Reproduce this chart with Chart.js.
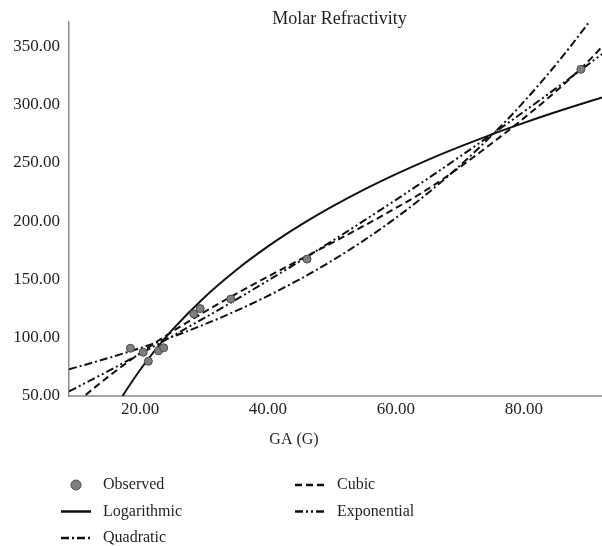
<!DOCTYPE html>
<html><head><meta charset="utf-8">
<script src="https://cdn.jsdelivr.net/npm/chart.js@4.4.1/dist/chart.umd.min.js"></script>
<style>html,body{margin:0;padding:0;background:#fff}#wrap{position:relative;width:602px;height:546px}</style>
</head><body><div id="wrap"><canvas id="c"></canvas></div>
<script>
const chartTitle = 'Molar Refractivity';
const xAxisTitle = 'GA (G)';
const xTickValues = [20, 40, 60, 80];
const yTickValues = [50, 100, 150, 200, 250, 300, 350];

const observedX = [18.5, 20.5, 21.3, 22.9, 23.7, 28.4, 29.4, 34.2, 46.1, 88.9];
const observedY = [91.0, 87.5, 79.8, 88.8, 91.4, 120.5, 125.0, 133.2, 167.5, 330.4];

const logX = [16, 17, 18, 20, 22, 25, 30, 35, 40, 45, 50, 55, 60, 65, 70, 75, 80, 85, 92.2];
const logY = [38.2, 47.5, 56.2, 72.3, 86.9, 106.5, 134.4, 158.0, 178.4, 196.4, 212.5, 227.1, 240.4, 252.7, 264.0, 274.6, 284.4, 293.7, 306.2];

const cubicX = [8.9, 11.3, 15, 20, 25, 30, 35, 40, 45, 50, 55, 60, 65, 70, 75, 80, 85, 90, 92.2];
const cubicY = [38.6, 50.0, 66.4, 86.7, 105.1, 121.9, 137.6, 152.5, 167.0, 181.4, 196.1, 211.4, 227.7, 246.5, 267.0, 288.5, 311.5, 337.0, 349.7];

const expX = [8.9, 12, 15, 20, 25, 30, 35, 40, 45, 50, 55, 60, 65, 70, 75, 80, 85, 90, 92.2];
const expY = [53.9, 62.7, 71.3, 86.1, 101.2, 116.8, 132.7, 149.1, 165.8, 182.9, 200.5, 218.4, 236.7, 255.5, 274.6, 294.1, 314.0, 334.4, 343.4];

const quadX = [8.9, 12, 15, 20, 25, 30, 35, 40, 45, 50, 55, 60, 65, 70, 75, 80, 85, 90, 92.2];
const quadY = [73.0, 77.7, 82.5, 91.1, 100.7, 111.3, 123.0, 136.0, 150.3, 166.1, 183.6, 202.9, 224.2, 247.8, 273.8, 302.6, 334.5, 369.6, 386.2];

const pts = (xs, ys) => xs.map((x, i) => ({x: x, y: ys[i]}));
const FONT = '"Liberation Serif", "Times New Roman", serif';
const TEXT = '#231f20';
const LINE = '#111111';

const curve = (label, xs, ys, dash) => ({
  type: 'line', label, data: pts(xs, ys),
  borderColor: LINE, backgroundColor: LINE, borderWidth: 2, borderDash: dash,
  pointRadius: 0, fill: false, cubicInterpolationMode: 'monotone'
});

const datasets = [
  {type: 'scatter', label: 'Observed', data: pts(observedX, observedY),
   backgroundColor: '#7f7f7f', borderColor: '#4a4a4a', borderWidth: 1, pointRadius: 4, pointStyle: 'circle'},
  curve('Logarithmic', logX, logY, []),
  curve('Cubic', cubicX, cubicY, [7, 4]),
  curve('Exponential', expX, expY, [8, 3, 2, 3, 2, 3]),
  curve('Quadratic', quadX, quadY, [8, 3, 2, 3])
];

// legend grid: [dataset index, column, row]
const legendLayout = [[0, 0, 0], [2, 1, 0], [1, 0, 1], [3, 1, 1], [4, 0, 2]];

const overlay = {
  id: 'overlay',
  afterDraw(chart) {
    const ctx = chart.ctx, a = chart.chartArea;
    ctx.save();
    ctx.fillStyle = TEXT;
    ctx.textAlign = 'center';
    ctx.textBaseline = 'middle';
    ctx.font = '18px ' + FONT;
    ctx.fillText(chartTitle, (a.left + a.right) / 2 + 4, a.top - 3);
    ctx.font = '16px ' + FONT;
    ctx.fillText(xAxisTitle, a.left + 225, a.bottom + 44);
    const colX = [61, 295], rowY = [485, 511.5, 538];
    ctx.textAlign = 'left';
    legendLayout.forEach(([di, c, r]) => {
      const ds = chart.data.datasets[di];
      const x = colX[c], y = rowY[r];
      if (di === 0) {
        ctx.beginPath();
        ctx.setLineDash([]);
        ctx.arc(x + 15, y, 5, 0, Math.PI * 2);
        ctx.fillStyle = ds.backgroundColor; ctx.fill();
        ctx.lineWidth = 1; ctx.strokeStyle = ds.borderColor; ctx.stroke();
      } else {
        ctx.beginPath();
        ctx.setLineDash(ds.borderDash || []);
        ctx.lineWidth = 2.5; ctx.strokeStyle = LINE;
        ctx.moveTo(x, y); ctx.lineTo(x + 30, y); ctx.stroke();
      }
      ctx.setLineDash([]);
      ctx.fillStyle = TEXT;
      ctx.fillText(ds.label, x + 42, y);
    });
    ctx.restore();
  }
};

new Chart(document.getElementById('c'), {
  data: {datasets},
  options: {
    responsive: true, maintainAspectRatio: false, animation: false,
    layout: {autoPadding: false, padding: {top: 22, left: 0, right: 0, bottom: 0}},
    plugins: {legend: {display: false}, tooltip: {enabled: false}, title: {display: false}},
    scales: {
      x: {type: 'linear', min: 8.9, max: 92.2,
        afterFit(s) { s.height = 150; },
        afterBuildTicks(s) { s.ticks = xTickValues.map(v => ({value: v})); },
        grid: {display: false, drawTicks: false},
        border: {display: true, color: '#a6a6a6', width: 2},
        ticks: {padding: 3, maxRotation: 0, color: TEXT, font: {family: FONT, size: 17},
          callback: v => Number(v).toFixed(2)}
      },
      y: {type: 'linear', min: 50, max: 371,
        afterFit(s) { s.width = 69; },
        afterBuildTicks(s) { s.ticks = yTickValues.map(v => ({value: v})); },
        grid: {display: false, drawTicks: false},
        border: {display: true, color: '#8c8c8c', width: 1.5},
        ticks: {padding: 9, color: TEXT, font: {family: FONT, size: 17},
          callback: v => Number(v).toFixed(2)}
      }
    }
  },
  plugins: [overlay]
});
</script>
</body></html>
